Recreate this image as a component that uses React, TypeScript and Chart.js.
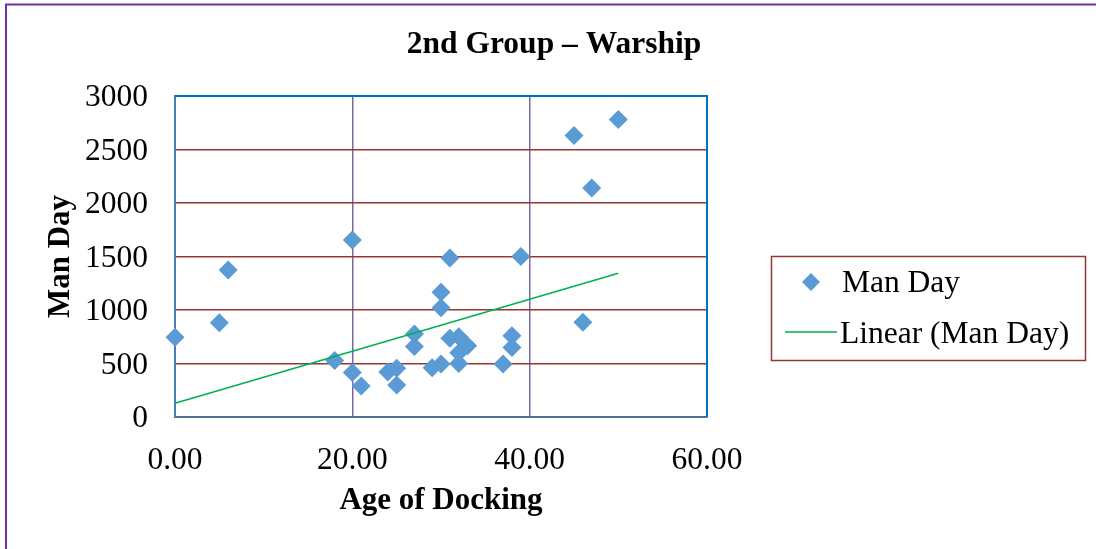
import React, { useEffect, useRef } from 'react';
import { Chart, registerables } from 'chart.js';

Chart.register(...registerables);

const FONT = "'Liberation Serif', 'Times New Roman', serif";

const chartTitle = '2nd Group – Warship';
const xAxisTitle = 'Age of Docking';
const yAxisTitle = 'Man Day';
const seriesLabel = 'Man Day';
const trendLabel = 'Linear (Man Day)';

const ageOfDocking = [0, 5, 6, 18, 20, 20, 21, 24, 25, 25, 27, 27, 29, 30, 30, 30, 31, 31, 32, 33, 32, 32, 37, 38, 38, 39, 45, 46, 47, 50];
const manDay = [745, 880, 1375, 527, 1655, 415, 290, 420, 455, 300, 775, 660, 460, 495, 1165, 1020, 1485, 735, 750, 665, 600, 500, 495, 760, 650, 1500, 2630, 885, 2140, 2780];

const trendAge = [0, 50];
const trendManDay = [128, 1344];

const xTicks = [0, 20, 40, 60];
const yTicks = [0, 500, 1000, 1500, 2000, 2500, 3000];

const MARKER = '#5B9BD5';
const TREND = '#00B050';
const HGRID = '#953735';
const VGRID = '#8064A2';

const decorPlugin = {
  id: 'decor',
  beforeDraw(chart: any) {
    const { ctx, width, height } = chart;
    ctx.save();
    ctx.fillStyle = '#ffffff';
    ctx.fillRect(0, 0, width, height);
    ctx.strokeStyle = '#7030A0';
    ctx.lineWidth = 2;
    ctx.beginPath();
    ctx.moveTo(6, height + 4);
    ctx.lineTo(6, 4.5);
    ctx.lineTo(width + 4, 4.5);
    ctx.stroke();
    ctx.fillStyle = '#000';
    ctx.font = `bold 31.5px ${FONT}`;
    ctx.textAlign = 'center';
    ctx.textBaseline = 'middle';
    ctx.fillText(chartTitle, 554, 45);
    ctx.restore();
  },
  beforeDatasetsDraw(chart: any) {
    const { ctx, chartArea: a } = chart;
    ctx.save();
    ctx.strokeStyle = '#0070C0';
    ctx.lineWidth = 2;
    ctx.beginPath();
    ctx.moveTo(a.left, a.top);
    ctx.lineTo(a.right, a.top);
    ctx.lineTo(a.right, a.bottom);
    ctx.stroke();
    ctx.restore();
  },
  afterDraw(chart: any) {
    const { ctx } = chart;
    const ds = chart.data.datasets;
    ctx.save();
    ctx.strokeStyle = HGRID;
    ctx.lineWidth = 1.5;
    ctx.strokeRect(771.5, 256.5, 314, 104);
    const cx = 811, cy = 282, r = 9;
    ctx.fillStyle = MARKER;
    ctx.beginPath();
    ctx.moveTo(cx - r, cy);
    ctx.lineTo(cx, cy - r);
    ctx.lineTo(cx + r, cy);
    ctx.lineTo(cx, cy + r);
    ctx.closePath();
    ctx.fill();
    ctx.strokeStyle = TREND;
    ctx.lineWidth = 1.5;
    ctx.beginPath();
    ctx.moveTo(785, 332);
    ctx.lineTo(837, 332);
    ctx.stroke();
    ctx.fillStyle = '#000';
    ctx.font = `31.5px ${FONT}`;
    ctx.textAlign = 'left';
    ctx.textBaseline = 'middle';
    ctx.fillText(ds[1].label, 842, 284);
    ctx.fillText(ds[0].label, 840, 335);
    ctx.restore();
  },
};

export default function App() {
  const ref = useRef<HTMLCanvasElement | null>(null);

  useEffect(() => {
    if (!ref.current) return;
    const tickFont = { family: FONT, size: 31.5 };
    const titleFont = { family: FONT, size: 31, weight: 'bold' as const };
    const chart = new Chart(ref.current, {
      type: 'scatter',
      data: {
        datasets: [
          {
            type: 'line',
            label: trendLabel,
            data: trendAge.map((x, i) => ({ x, y: trendManDay[i] })),
            borderColor: TREND,
            borderWidth: 1.5,
            pointRadius: 0,
            showLine: true,
            fill: false,
            order: 0,
            clip: false as any,
          },
          {
            type: 'scatter',
            label: seriesLabel,
            data: ageOfDocking.map((x, i) => ({ x, y: manDay[i] })),
            pointStyle: 'rectRot',
            pointRadius: 9.5,
            pointHoverRadius: 9.5,
            backgroundColor: MARKER,
            borderColor: MARKER,
            borderWidth: 0,
            order: 1,
            clip: false as any,
          },
        ],
      },
      options: {
        animation: false,
        responsive: false,
        events: [],
        layout: { padding: { left: 42, right: 389, top: 96, bottom: 28 } },
        plugins: {
          legend: { display: false },
          title: { display: false },
          tooltip: { enabled: false },
        },
        scales: {
          x: {
            type: 'linear',
            min: xTicks[0],
            max: xTicks[xTicks.length - 1],
            afterBuildTicks: (s: any) => { s.ticks = xTicks.map((v) => ({ value: v })); },
            afterFit: (s: any) => { s.height = 104; },
            ticks: {
              font: tickFont,
              color: '#000',
              padding: 25,
              maxRotation: 0,
              autoSkip: false,
              callback: (v: any) => Number(v).toFixed(2),
            },
            grid: {
              drawTicks: false,
              lineWidth: 1.5,
              color: (c: any) => (c.tick && (c.tick.value === xTicks[0] || c.tick.value === xTicks[xTicks.length - 1]) ? 'rgba(0,0,0,0)' : VGRID),
            },
            border: { color: '#4F6F93', width: 2 },
            title: { display: true, text: xAxisTitle, font: titleFont, color: '#000', padding: { top: 0, bottom: 1 } },
          },
          y: {
            type: 'linear',
            min: yTicks[0],
            max: yTicks[yTicks.length - 1],
            afterBuildTicks: (s: any) => { s.ticks = yTicks.map((v) => ({ value: v })); },
            afterFit: (s: any) => { s.width = 133; },
            ticks: {
              font: tickFont,
              color: '#000',
              padding: 27,
              labelOffset: 2,
              autoSkip: false,
              callback: (v: any) => String(v),
            },
            grid: {
              drawTicks: false,
              lineWidth: 1.5,
              color: (c: any) => (c.tick && (c.tick.value === yTicks[0] || c.tick.value === yTicks[yTicks.length - 1]) ? 'rgba(0,0,0,0)' : HGRID),
            },
            border: { color: '#4A7EBB', width: 2 },
            title: { display: true, text: yAxisTitle, font: titleFont, color: '#000', padding: { top: 0, bottom: 0 } },
          },
        },
      },
      plugins: [decorPlugin],
    });
    return () => chart.destroy();
  }, []);

  return (
    <div style={{ position: 'fixed', left: 0, top: 0, width: 1096, height: 549, background: '#fff' }}>
      <canvas ref={ref} width={1096} height={549} style={{ display: 'block', width: 1096, height: 549 }} />
    </div>
  );
}
